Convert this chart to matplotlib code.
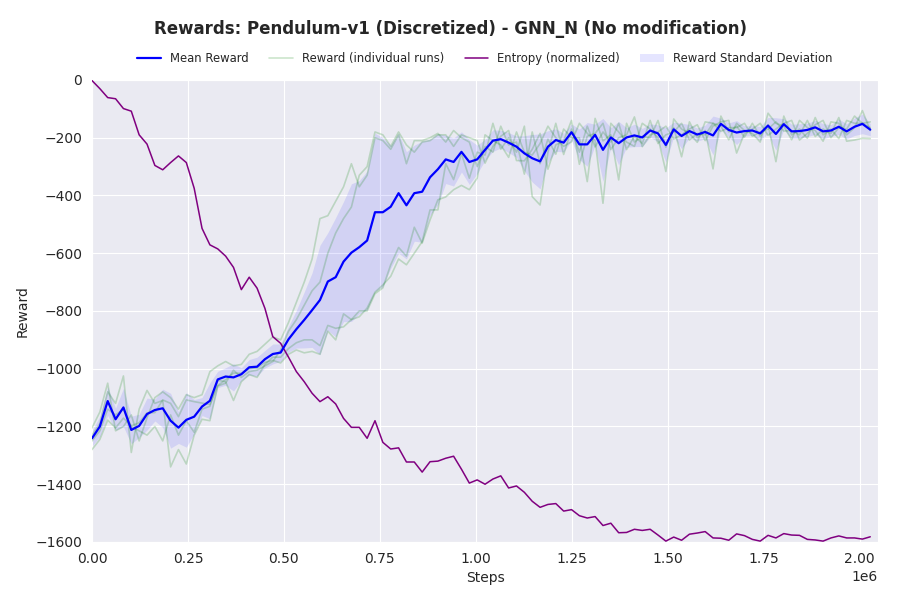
import numpy as np
import matplotlib
matplotlib.use("Agg")
import matplotlib.pyplot as plt
import seaborn as sns

# ---------------- data ----------------
step_size = 20480
n_points = 100

mean_reward = [
    -1241, -1200, -1112, -1175, -1134, -1212, -1198, -1157, -1143, -1137,
    -1180, -1204, -1177, -1166, -1131, -1111, -1037, -1027, -1030, -1019,
    -995, -993, -967, -949, -944, -898, -863, -831, -797, -762,
    -698, -683, -629, -598, -579, -556, -458, -458, -439, -392,
    -434, -392, -387, -337, -309, -275, -284, -249, -284, -275,
    -242, -210, -205, -217, -231, -254, -271, -282, -231, -208,
    -217, -181, -223, -223, -190, -242, -199, -219, -199, -192,
    -199, -175, -185, -225, -171, -194, -177, -189, -180, -192,
    -152, -173, -182, -177, -175, -185, -158, -187, -153, -178,
    -177, -173, -164, -178, -175, -162, -178, -162, -152, -172,
]

run_a = [
    -1205, -1150, -1050, -1215, -1200, -1160, -1250, -1170, -1100, -1080,
    -1100, -1140, -1090, -1100, -1090, -1010, -990, -975, -990, -985,
    -950, -940, -915, -890, -900, -840, -770, -700, -620, -480,
    -470, -420, -370, -290, -370, -330, -200, -210, -240, -190,
    -290, -210, -210, -200, -185, -215, -175, -200, -215, -300,
    -230, -250, -160, -225, -215, -326, -180, -290, -205, -257,
    -170, -200, -200, -352, -133, -211, -190, -346, -150, -215,
    -195, -200, -140, -233, -165, -266, -145, -200, -175, -308,
    -125, -180, -160, -198, -150, -195, -155, -283, -125, -190,
    -170, -202, -130, -190, -170, -203, -140, -150, -150, -165,
]

run_b = [
    -1230, -1190, -1080, -1120, -1025, -1290, -1140, -1075, -1120, -1110,
    -1340, -1280, -1330, -1230, -1175, -1180, -1060, -1050, -1005, -1030,
    -1010, -1005, -990, -975, -935, -870, -830, -780, -730, -700,
    -600, -530, -480, -440, -330, -300, -180, -190, -230, -180,
    -225, -250, -215, -210, -190, -190, -230, -190, -200, -210,
    -288, -230, -195, -175, -279, -280, -240, -185, -309, -225,
    -210, -140, -292, -195, -185, -150, -241, -200, -190, -128,
    -231, -190, -180, -160, -204, -190, -170, -155, -210, -160,
    -145, -140, -253, -185, -170, -150, -192, -170, -150, -140,
    -208, -185, -155, -140, -200, -165, -170, -125, -150, -145,
]

run_c = [
    -1250, -1215, -1140, -1160, -1140, -1200, -1215, -1230, -1200, -1250,
    -1160, -1230, -1180, -1220, -1140, -1130, -1040, -1045, -1110, -1045,
    -1020, -1030, -985, -960, -960, -930, -910, -900, -900, -920,
    -850, -860, -855, -830, -800, -800, -740, -720, -640, -580,
    -610, -510, -565, -485, -415, -405, -380, -365, -380, -340,
    -190, -210, -225, -268, -180, -250, -260, -220, -160, -200,
    -230, -214, -150, -185, -210, -427, -150, -180, -215, -230,
    -150, -170, -200, -317, -135, -170, -185, -216, -145, -150,
    -160, -207, -150, -175, -185, -215, -115, -150, -160, -207,
    -140, -165, -175, -212, -145, -150, -190, -165, -106, -175,
]

run_d = [
    -1280, -1245, -1178, -1205, -1171, -1198, -1187, -1153, -1152, -1108,
    -1120, -1166, -1108, -1114, -1119, -1124, -1058, -1038, -1015, -1016,
    -1000, -997, -978, -971, -980, -950, -935, -945, -940, -950,
    -870, -900, -810, -830, -820, -790, -735, -710, -680, -620,
    -640, -600, -560, -450, -450, -290, -345, -255, -340, -250,
    -260, -150, -240, -200, -250, -160, -404, -433, -250, -150,
    -258, -170, -250, -160, -232, -180, -215, -150, -241, -195,
    -220, -140, -220, -190, -180, -150, -208, -185, -190, -150,
    -178, -165, -165, -150, -195, -180, -170, -145, -177, -175,
    -190, -140, -196, -170, -185, -130, -212, -208, -202, -203,
]

entropy_normalized = [
    -2, -30, -61, -65, -99, -108, -190, -222, -296, -311,
    -286, -263, -286, -375, -514, -571, -585, -610, -649, -726,
    -683, -721, -791, -889, -912, -960, -1010, -1045, -1085, -1114,
    -1097, -1122, -1172, -1203, -1203, -1241, -1180, -1255, -1278, -1274,
    -1323, -1323, -1358, -1322, -1320, -1310, -1303, -1348, -1396, -1385,
    -1400, -1382, -1371, -1413, -1406, -1428, -1459, -1480, -1470, -1467,
    -1493, -1488, -1509, -1517, -1512, -1543, -1535, -1568, -1567, -1556,
    -1560, -1556, -1576, -1597, -1583, -1594, -1573, -1569, -1564, -1586,
    -1587, -1594, -1572, -1578, -1591, -1597, -1577, -1586, -1571, -1576,
    -1577, -1591, -1593, -1597, -1586, -1579, -1586, -1586, -1590, -1582,
]

title = "Rewards: Pendulum-v1 (Discretized) - GNN_N (No modification)"

# ---------------- plot ----------------
sns.set_style("darkgrid")
plt.rcParams["font.family"] = ["DejaVu Sans"]

steps = np.arange(n_points) * step_size
runs = np.array([run_a, run_b, run_c, run_d], dtype=float)
mean = np.array(mean_reward, dtype=float)
std = runs.std(axis=0)

fig = plt.figure(figsize=(9, 6), dpi=100)
ax = fig.add_axes([0.1022, 0.0967, 0.8734, 0.77])

ax.plot(steps, mean, color="blue", lw=1.6, label="Mean Reward", zorder=5)
for k, r in enumerate(runs):
    ax.plot(steps, r, color="green", alpha=0.2, lw=1.2,
            label="Reward (individual runs)" if k == 0 else None, zorder=3)
ax.plot(steps, entropy_normalized, color="purple", lw=1.1,
        label="Entropy (normalized)", zorder=4)
ax.fill_between(steps, mean - std, mean + std, color="blue", alpha=0.1,
                lw=0, label="Reward Standard Deviation", zorder=2)

ax.set_xlim(0, steps[-1] * 1.01)
ax.set_ylim(-1600, 0)
ax.set_xlabel("Steps", fontsize=10)
ax.set_ylabel("Reward", fontsize=10)
ax.tick_params(labelsize=10)

ax.legend(loc="center", bbox_to_anchor=(0.5, 1.047), ncol=4, frameon=False,
          fontsize=8.4, handlelength=2.0, columnspacing=1.75)
fig.suptitle(title, fontsize=12, fontweight="bold", y=0.967)

fig.savefig("out.png", dpi=100)
